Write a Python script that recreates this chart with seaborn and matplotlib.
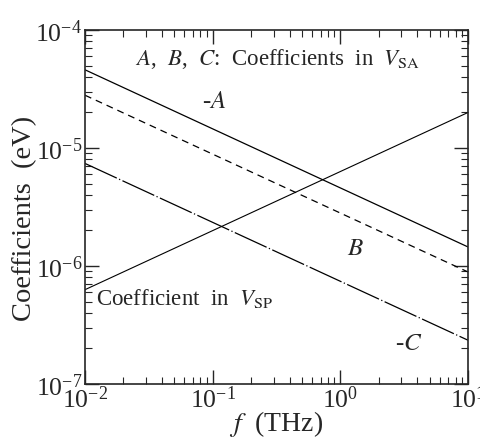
import numpy as np
import pandas as pd
import matplotlib
matplotlib.use("Agg")
import matplotlib.pyplot as plt
import seaborn as sns

# Data (endpoints of straight lines in log-log space)
freq = [1e-2, 1e1]
minus_A = [4.6e-5, 1.45e-6]
B_vals = [2.8e-5, 8.9e-7]
minus_C = [7.4e-6, 2.35e-7]
V_SP = [6.3e-7, 2.0e-5]

sns.set_style("ticks")
plt.rcParams['font.family'] = ['Liberation Serif', 'DejaVu Serif']
plt.rcParams['mathtext.fontset'] = 'stix'

fig = plt.figure(figsize=(4.81, 4.39), dpi=100)
ax = fig.add_axes([85/481, 1-385/439, 383/481, 354/439])

df = pd.DataFrame({'f': freq, '-A': minus_A, 'B': B_vals, '-C': minus_C, 'SP': V_SP})

sns.lineplot(data=df, x='f', y='-A', ax=ax, color='black', lw=0.9)
sns.lineplot(data=df, x='f', y='B', ax=ax, color='black', lw=0.9,
             linestyle=(0, (5.5, 4)))
sns.lineplot(data=df, x='f', y='-C', ax=ax, color='black', lw=0.9,
             linestyle=(0, (28, 2, 1, 2)))
sns.lineplot(data=df, x='f', y='SP', ax=ax, color='black', lw=0.8)

ax.set_xscale('log')
ax.set_yscale('log')
ax.set_xlim(1e-2, 1e1)
ax.set_ylim(1e-7, 1e-4)

ax.tick_params(which='both', direction='in', top=True, right=True, labelsize=18.5)
ax.tick_params(axis='x', which='both', pad=1)
ax.tick_params(axis='y', which='both', pad=2)
ax.tick_params(which='major', length=10, width=1)
ax.tick_params(which='minor', length=5, width=0.8)
for s in ax.spines.values():
    s.set_linewidth(1.2)

ax.set_xlabel(r'$f$  (THz)', fontsize=20, labelpad=-3)
ax.set_ylabel('Coefficients  (eV)', fontsize=20.5)
ax.yaxis.set_label_coords(-0.125, 0.47)

ax.text(0.13, 0.92, r'$A$,  $B$,  $C$:  Coefficients  in  $V_{\rm SA}$',
        transform=ax.transAxes, fontsize=16.5, va='center', ha='left')
ax.text(0.305, 0.80, r'-$A$', transform=ax.transAxes, fontsize=18, va='center', ha='left')
ax.text(0.685, 0.385, r'$B$', transform=ax.transAxes, fontsize=18, va='center', ha='left')
ax.text(0.81, 0.115, r'-$C$', transform=ax.transAxes, fontsize=18, va='center', ha='left')
ax.text(0.03, 0.245, r'Coefficient  in  $V_{\rm SP}$', transform=ax.transAxes,
        fontsize=16.5, va='center', ha='left')

fig.savefig('out.png', dpi=100)
